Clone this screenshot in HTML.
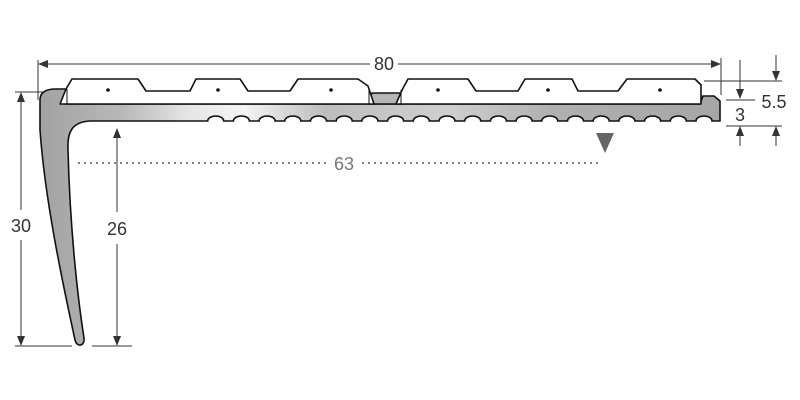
<!DOCTYPE html>
<html><head><meta charset="utf-8"><style>
html,body{margin:0;padding:0;background:#fff;width:800px;height:400px;overflow:hidden}
text{font-family:"Liberation Sans",sans-serif;fill:#333;font-size:18px}
</style></head><body>
<svg width="800" height="400" viewBox="0 0 800 400" xmlns="http://www.w3.org/2000/svg">
<defs>
<linearGradient id="g" gradientUnits="userSpaceOnUse" x1="40" y1="0" x2="720" y2="0">
<stop offset="0" stop-color="#a2a2a2"/>
<stop offset="0.12" stop-color="#b8b8b8"/>
<stop offset="0.22" stop-color="#e6e6e6"/>
<stop offset="0.3" stop-color="#f4f4f4"/>
<stop offset="0.42" stop-color="#bdbdbd"/>
<stop offset="0.6" stop-color="#cfcfcf"/>
<stop offset="0.75" stop-color="#b0b0b0"/>
<stop offset="1" stop-color="#a6a6a6"/>
</linearGradient>
<marker id="a" markerWidth="10" markerHeight="8" refX="9" refY="4" orient="auto" markerUnits="userSpaceOnUse"><path d="M0,0 L10,4 L0,8 Z" fill="#333"/></marker>
</defs>
<g stroke="#333" stroke-width="1" fill="none">
<!-- 80 -->
<line x1="38" y1="60" x2="38" y2="100"/>
<line x1="721" y1="58" x2="721" y2="95"/>
<line x1="370" y1="64" x2="39" y2="64" marker-end="url(#a)"/>
<line x1="398" y1="64" x2="720" y2="64" marker-end="url(#a)"/>
<!-- right dims -->
<line x1="704" y1="81" x2="782" y2="81"/>
<line x1="726" y1="100" x2="755" y2="100"/>
<line x1="726" y1="126" x2="782" y2="126"/>
<line x1="740" y1="60" x2="740" y2="98" marker-end="url(#a)"/>
<line x1="776" y1="55" x2="776" y2="80" marker-end="url(#a)"/>
<line x1="740" y1="146" x2="740" y2="127" marker-end="url(#a)"/>
<line x1="776" y1="146" x2="776" y2="127" marker-end="url(#a)"/>
<!-- left dims -->
<line x1="15" y1="92" x2="44" y2="92"/>
<line x1="15" y1="346" x2="72" y2="346"/>
<line x1="92" y1="346" x2="132" y2="346"/>
<line x1="21" y1="210" x2="21" y2="93" marker-end="url(#a)"/>
<line x1="21" y1="240" x2="21" y2="345" marker-end="url(#a)"/>
<line x1="117" y1="212" x2="117" y2="129" marker-end="url(#a)"/>
<line x1="117" y1="244" x2="117" y2="345" marker-end="url(#a)"/>
<line x1="78" y1="163" x2="330" y2="163" stroke="#555" stroke-width="1.5" stroke-dasharray="2 4"/>
<line x1="362" y1="163" x2="602" y2="163" stroke="#555" stroke-width="1.5" stroke-dasharray="2 4"/>
</g>
<!-- profile -->
<path fill="url(#g)" stroke="#111" stroke-width="1.6" d="M75,340 C62,280 45,200 40,130 L40,100 C40,92 46,89 56,89 L66,89 L66,104 L700,104 L703,96 L714,96 L720,101 L720,121 L712,121
a8 5 0 0 0 -16 0 l-9.7 0 a8 5 0 0 0 -16 0 l-9.7 0 a8 5 0 0 0 -16 0 l-9.7 0 a8 5 0 0 0 -16 0 l-9.7 0
a8 5 0 0 0 -16 0 l-9.7 0 a8 5 0 0 0 -16 0 l-9.7 0 a8 5 0 0 0 -16 0 l-9.7 0 a8 5 0 0 0 -16 0 l-9.7 0
a8 5 0 0 0 -16 0 l-9.7 0 a8 5 0 0 0 -16 0 l-9.7 0 a8 5 0 0 0 -16 0 l-9.7 0 a8 5 0 0 0 -16 0 l-9.7 0
a8 5 0 0 0 -16 0 l-9.7 0 a8 5 0 0 0 -16 0 l-9.7 0 a8 5 0 0 0 -16 0 l-9.7 0 a8 5 0 0 0 -16 0 l-9.7 0
a8 5 0 0 0 -16 0 l-9.7 0 a8 5 0 0 0 -16 0 l-9.7 0 a8 5 0 0 0 -16 0 l-9.7 0 a8 5 0 0 0 -16 0
L90,121 C72,122 67,132 68,150 C70,230 78,300 84,338 C85,346 77,348 75,340 Z"/>
<polygon points="368,104 372,93 400,93 402,104" fill="#b5b5b5" stroke="#111" stroke-width="1.4"/>
<path fill="#fff" stroke="#111" stroke-width="1.6" stroke-linejoin="round" d="M60,104 L66,89 L72,79 L138,79 L146,91 L190,91 L196,79 L240,79 L248,91 L290,91 L298,79 L358,79 L368,86 L374,104 Z"/>
<line x1="67" y1="89" x2="67" y2="104" stroke="#111" stroke-width="1"/>
<path fill="#fff" stroke="#111" stroke-width="1.6" stroke-linejoin="round" d="M396,104 L402,90 L408,79 L468,79 L476,91 L518,91 L525,79 L572,79 L578,91 L618,91 L627,79 L695,79 L701,85 L701,104 Z"/>
<line x1="401" y1="90" x2="401" y2="104" stroke="#111" stroke-width="1"/>
<line x1="369" y1="88" x2="369" y2="104" stroke="#111" stroke-width="1"/>
<g fill="#111">
<circle cx="108" cy="90" r="1.8"/><circle cx="218" cy="90" r="1.8"/><circle cx="331" cy="90" r="1.8"/>
<circle cx="438" cy="90" r="1.8"/><circle cx="548" cy="90" r="1.8"/><circle cx="660" cy="90" r="1.8"/>
</g>
<polygon points="596,133 614,133 605,153" fill="#666"/>
<text x="384" y="70" text-anchor="middle">80</text>
<text x="344" y="170" text-anchor="middle" style="fill:#777">63</text>
<text x="21" y="232" text-anchor="middle">30</text>
<text x="117" y="235" text-anchor="middle">26</text>
<text x="740" y="121" text-anchor="middle">3</text>
<text x="774" y="108" text-anchor="middle">5.5</text>
</svg>
</body></html>
